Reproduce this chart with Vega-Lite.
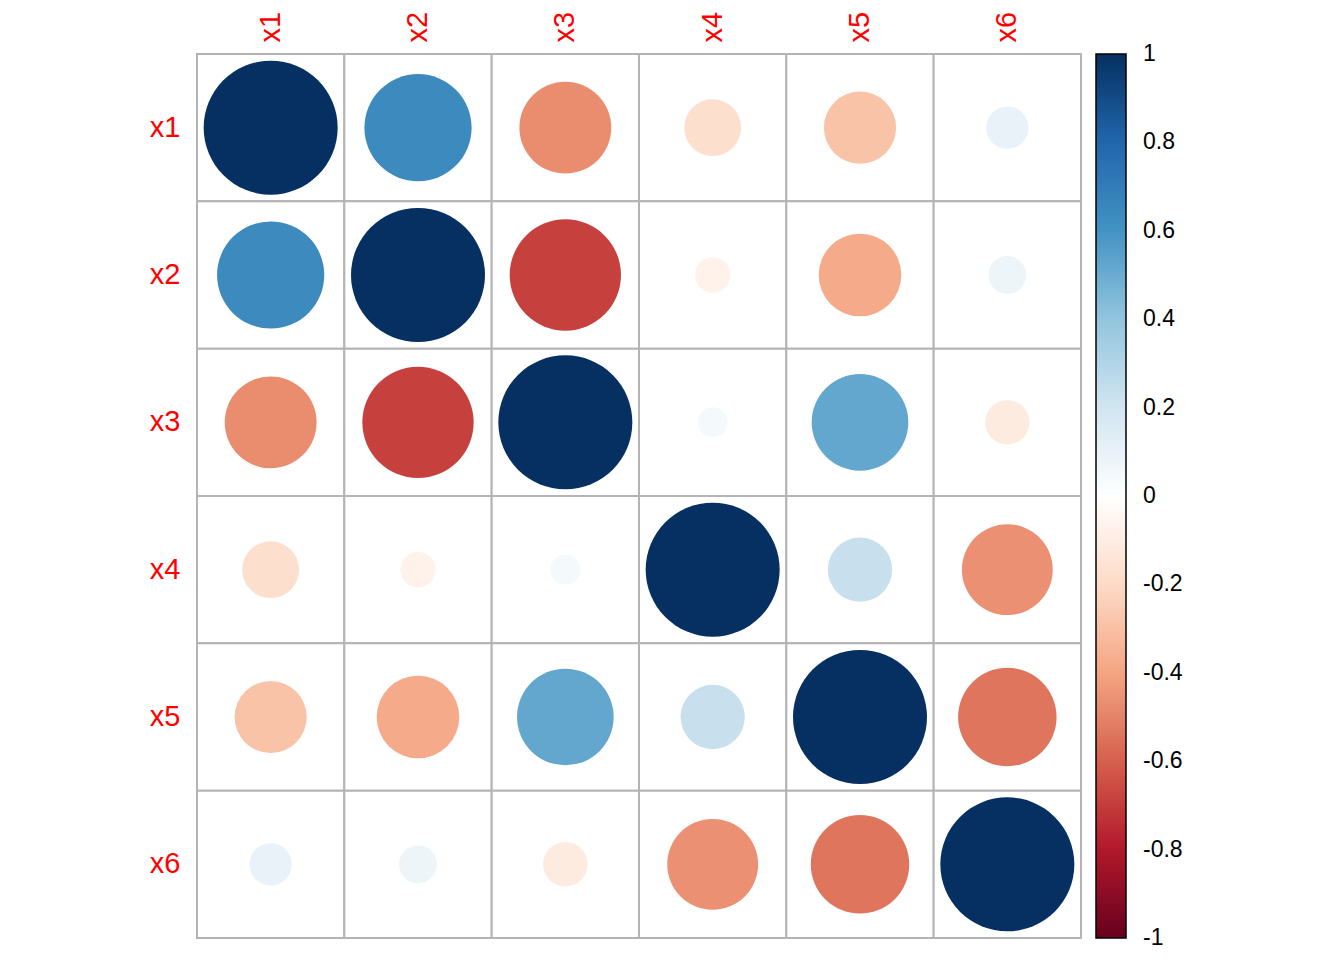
{
  "$schema": "https://vega.github.io/schema/vega-lite/v6.json",
  "width": 884,
  "height": 884,
  "autosize": {"type": "none"},
  "padding": {"left": 197, "top": 54, "right": 263, "bottom": 22},
  "background": "white",
  "config": {"view": {"stroke": null}, "font": "Liberation Sans"},
  "data": {
    "values": [
      {"row": "x1", "col": "x1", "r": 1},
      {"row": "x1", "col": "x2", "r": 0.64},
      {"row": "x1", "col": "x3", "r": -0.47},
      {"row": "x1", "col": "x4", "r": -0.18},
      {"row": "x1", "col": "x5", "r": -0.29},
      {"row": "x1", "col": "x6", "r": 0.1},
      {"row": "x2", "col": "x1", "r": 0.64},
      {"row": "x2", "col": "x2", "r": 1},
      {"row": "x2", "col": "x3", "r": -0.69},
      {"row": "x2", "col": "x4", "r": -0.07},
      {"row": "x2", "col": "x5", "r": -0.38},
      {"row": "x2", "col": "x6", "r": 0.08},
      {"row": "x3", "col": "x1", "r": -0.47},
      {"row": "x3", "col": "x2", "r": -0.69},
      {"row": "x3", "col": "x3", "r": 1},
      {"row": "x3", "col": "x4", "r": 0.05},
      {"row": "x3", "col": "x5", "r": 0.52},
      {"row": "x3", "col": "x6", "r": -0.11},
      {"row": "x4", "col": "x1", "r": -0.18},
      {"row": "x4", "col": "x2", "r": -0.07},
      {"row": "x4", "col": "x3", "r": 0.05},
      {"row": "x4", "col": "x4", "r": 1},
      {"row": "x4", "col": "x5", "r": 0.23},
      {"row": "x4", "col": "x6", "r": -0.46},
      {"row": "x5", "col": "x1", "r": -0.29},
      {"row": "x5", "col": "x2", "r": -0.38},
      {"row": "x5", "col": "x3", "r": 0.52},
      {"row": "x5", "col": "x4", "r": 0.23},
      {"row": "x5", "col": "x5", "r": 1},
      {"row": "x5", "col": "x6", "r": -0.54},
      {"row": "x6", "col": "x1", "r": 0.1},
      {"row": "x6", "col": "x2", "r": 0.08},
      {"row": "x6", "col": "x3", "r": -0.11},
      {"row": "x6", "col": "x4", "r": -0.46},
      {"row": "x6", "col": "x5", "r": -0.54},
      {"row": "x6", "col": "x6", "r": 1}
    ]
  },
  "encoding": {
    "x": {
      "field": "col", "type": "nominal",
      "scale": {"domain": ["x1","x2","x3","x4","x5","x6"], "paddingInner": 0, "paddingOuter": 0},
      "axis": {"orient": "top", "title": null, "labelAngle": -90, "labelFontSize": 29, "labelColor": "red", "labelPadding": 12, "ticks": false, "domain": false, "labelFont": "Liberation Sans"}
    },
    "y": {
      "field": "row", "type": "nominal",
      "scale": {"domain": ["x1","x2","x3","x4","x5","x6"], "paddingInner": 0, "paddingOuter": 0},
      "axis": {"orient": "left", "title": null, "labelFontSize": 29, "labelColor": "red", "labelPadding": 17, "ticks": false, "domain": false, "labelFont": "Liberation Sans"}
    }
  },
  "layer": [
    {
      "mark": {"type": "rect", "fill": "white", "stroke": "#B4B4B4", "strokeWidth": 2}
    },
    {
      "mark": {"type": "point", "shape": "circle", "filled": true, "opacity": 1},
      "encoding": {
        "size": {
          "field": "r", "type": "quantitative",
          "scale": {"type": "linear", "domain": [-1, 0, 1], "range": [17956, 0, 17956]},
          "legend": null
        },
        "color": {
          "field": "r", "type": "quantitative",
          "scale": {
            "type": "linear",
            "interpolate": "rgb",
            "domain": [-1, -0.8, -0.6, -0.4, -0.2, 0, 0.2, 0.4, 0.6, 0.8, 1],
            "range": ["#67001F", "#B2182B", "#D6604D", "#F4A582", "#FDDBC7", "#FFFFFF", "#D1E5F0", "#92C5DE", "#4393C3", "#2166AC", "#053061"]
          },
          "legend": {
            "orient": "none",
            "legendX": 899,
            "legendY": 0,
            "title": null,
            "direction": "vertical",
            "gradientLength": 884,
            "gradientThickness": 30,
            "gradientStrokeColor": "black",
            "gradientStrokeWidth": 1.5,
            "values": [-0.99999, -0.8, -0.6, -0.4, -0.2, 0, 0.2, 0.4, 0.6, 0.8, 0.99999],
            "labelFontSize": 23,
            "labelFont": "Liberation Sans",
            "labelColor": "black",
            "labelOffset": 17,
            "labelOverlap": false,
            "labelExpr": "datum.value > 0.99 ? '1' : datum.value < -0.99 ? '-1' : datum.value == 0 ? '0' : toString(datum.value)",
            "padding": 0
          }
        }
      }
    }
  ]
}
